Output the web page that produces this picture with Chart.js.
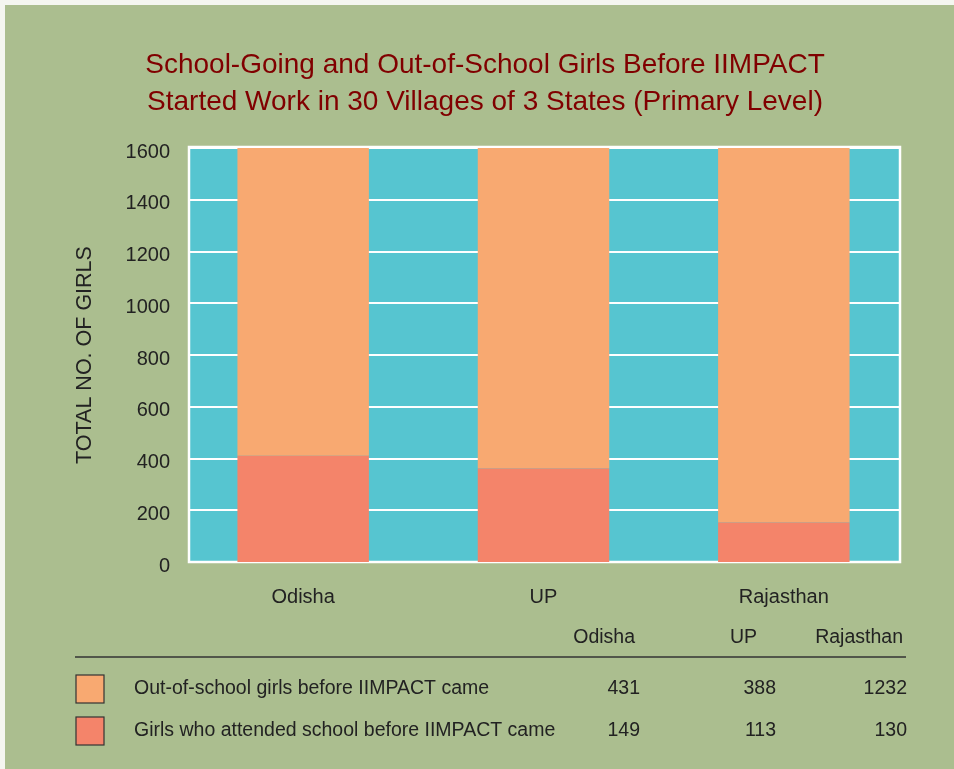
<!DOCTYPE html>
<html>
<head>
<meta charset="utf-8">
<script src="https://cdn.jsdelivr.net/npm/chart.js@4/dist/chart.umd.min.js"></script>
<style>
  html, body { margin: 0; padding: 0; background: #f4f6f0; }
  #wrap { width: 954px; height: 769px; position: relative; }
</style>
</head>
<body>
<div id="wrap"><canvas id="chart" width="954" height="769"></canvas></div>
<script>
// states along the x axis
const states = ['Odisha', 'UP', 'Rajasthan']
// table values (number of girls)
const outOfSchool = [431, 388, 1232]
const attended    = [149, 113, 130]
const seriesNames = [
  'Out-of-school girls before IIMPACT came',
  'Girls who attended school before IIMPACT came',
]
const titleLines = [
  'School-Going and Out-of-School Girls Before IIMPACT',
  'Started Work in 30 Villages of 3 States (Primary Level)',
]
// bars are drawn as shares of the state total, on a 0-1600 axis
const AXIS_MAX = 1600
const totals = states.map((_, i) => outOfSchool[i] + attended[i])
const attendedBar = attended.map((v, i) => v / totals[i] * AXIS_MAX)
const outBar      = outOfSchool.map((v, i) => v / totals[i] * AXIS_MAX)

const FONT = '"Liberation Sans", Arial, sans-serif'
const BG = '#abbe8f'
const PLOT_BG = '#56c5d0'
const C_OUT = '#f8a971'
const C_IN  = '#f4846a'
const TXT = '#222222'
// visible plot panel (the category band is a little wider than the panel)
const PANEL_L = 189
const PANEL_R = 900

const backdrop = {
  id: 'backdrop',
  beforeDraw(chart) {
    const { ctx, chartArea: a } = chart
    ctx.save()
    ctx.fillStyle = BG
    ctx.fillRect(5, 5, chart.width - 5, chart.height - 5)
    ctx.fillStyle = PLOT_BG
    ctx.fillRect(PANEL_L, a.top, PANEL_R - PANEL_L, a.bottom - a.top)
    ctx.restore()
  },
  beforeDatasetsDraw(chart) {
    const { ctx, chartArea: a } = chart
    const y = chart.scales.y
    ctx.save()
    ctx.strokeStyle = '#ffffff'
    ctx.lineWidth = 2
    y.ticks.forEach(t => {
      const py = Math.round(y.getPixelForValue(t.value))
      ctx.beginPath()
      ctx.moveTo(PANEL_L, py)
      ctx.lineTo(PANEL_R, py)
      ctx.stroke()
    })
    ctx.lineWidth = 2.5
    ctx.strokeRect(PANEL_L, a.top - 1, PANEL_R - PANEL_L, a.bottom - a.top + 1)
    ctx.restore()
  },
}

const titleAndTable = {
  id: 'titleAndTable',
  afterDraw(chart) {
    const { ctx } = chart
    ctx.save()
    // title
    ctx.fillStyle = '#800000'
    ctx.font = `28px ${FONT}`
    ctx.textAlign = 'center'
    ctx.textBaseline = 'middle'
    titleLines.forEach((t, i) => ctx.fillText(t, 485, 65 + i * 37))

    // data table under the chart
    ctx.fillStyle = TXT
    ctx.font = `19.5px ${FONT}`
    const headX = [635, 757, 903]
    const valX  = [640, 776, 907]
    ctx.textAlign = 'right'
    states.forEach((s, i) => ctx.fillText(s, headX[i], 638))

    ctx.strokeStyle = '#333333'
    ctx.lineWidth = 1.5
    ctx.beginPath()
    ctx.moveTo(75, 657)
    ctx.lineTo(906, 657)
    ctx.stroke()

    const rows = [
      { name: seriesNames[0], vals: outOfSchool, color: C_OUT, y: 689 },
      { name: seriesNames[1], vals: attended,    color: C_IN,  y: 731 },
    ]
    rows.forEach(r => {
      ctx.fillStyle = r.color
      ctx.fillRect(76, r.y - 14, 28, 28)
      ctx.strokeStyle = '#333333'
      ctx.lineWidth = 1.2
      ctx.strokeRect(76, r.y - 14, 28, 28)
      ctx.fillStyle = TXT
      ctx.textAlign = 'left'
      ctx.fillText(r.name, 134, r.y)
      ctx.textAlign = 'right'
      r.vals.forEach((v, i) => ctx.fillText(String(v), valX[i], r.y))
    })
    ctx.restore()
  },
}

new Chart(document.getElementById('chart'), {
  type: 'bar',
  data: {
    labels: states,
    datasets: [
      {
        label: seriesNames[1],
        data: attendedBar,
        backgroundColor: C_IN,
        barPercentage: 0.547,
        categoryPercentage: 1,
      },
      {
        label: seriesNames[0],
        data: outBar,
        backgroundColor: C_OUT,
        barPercentage: 0.547,
        categoryPercentage: 1,
      },
    ],
  },
  options: {
    responsive: false,
    animation: false,
    layout: { padding: { left: 0, top: 148, right: 50, bottom: 157 } },
    plugins: {
      legend: { display: false },
      title: { display: false },
      tooltip: { enabled: false },
    },
    scales: {
      x: {
        stacked: true,
        afterFit: s => { s.height = 50 },
        grid: { display: false, drawTicks: false },
        border: { display: false },
        ticks: { color: TXT, font: { family: FONT, size: 20 }, padding: 23 },
      },
      y: {
        stacked: true,
        min: 0,
        max: AXIS_MAX,
        afterFit: s => { s.width = 183 },
        grid: { display: false, drawTicks: false },
        border: { display: false },
        ticks: {
          stepSize: 200,
          color: TXT,
          font: { family: FONT, size: 20 },
          padding: 13,
          labelOffset: 4,
          callback: v => String(v),
        },
        title: {
          display: true,
          text: 'TOTAL NO. OF GIRLS',
          color: TXT,
          font: { family: FONT, size: 21.5 },
          padding: { top: 72, bottom: 0 },
        },
      },
    },
  },
  plugins: [backdrop, titleAndTable],
})
</script>
</body>
</html>
